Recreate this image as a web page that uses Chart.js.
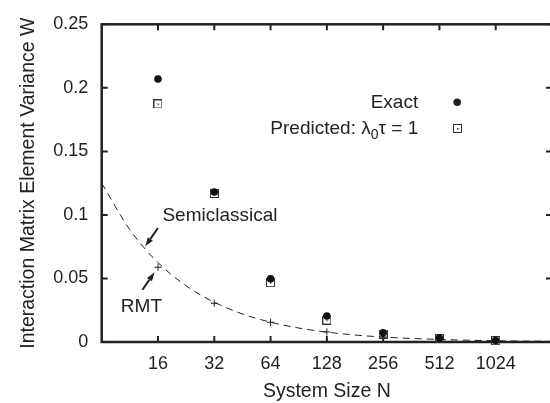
<!DOCTYPE html>
<html><head><meta charset="utf-8">
<script src="https://cdn.jsdelivr.net/npm/chart.js@4.4.1/dist/chart.umd.min.js"></script>
<style>
html,body{margin:0;padding:0;overflow:hidden;background:#fff;width:550px;height:403px}
#wrap{position:absolute;left:0;top:0;width:558px;height:403px}
</style>
</head><body><div id="wrap"><canvas id="c" width="558" height="403"></canvas></div>
<script>
// ---- data ----
const sizes = [16, 32, 64, 128, 256, 512, 1024];
const exactW = [0.207, 0.118, 0.0498, 0.0205, 0.0072, 0.0031, 0.0012];
const predictedW = [0.1873, 0.117, 0.0467, 0.0173, 0.0062, 0.0028, 0.0011];
const rmtW = [0.0588, 0.0305, 0.0155, 0.0079, 0.0039, 0.002, 0.001];
const semiN = [8, 11.31, 16, 22.63, 32, 45.25, 64, 90.5, 128, 181, 256, 362, 512, 724, 1024, 1448, 2048];
const semiW = [0.125, 0.0884, 0.0625, 0.0442, 0.0313, 0.0221, 0.0156, 0.011, 0.0078, 0.0055, 0.0039, 0.0028, 0.002, 0.0014, 0.001, 0.0007, 0.0005];
const xTickValues = [16, 32, 64, 128, 256, 512, 1024];
const yTickValues = [0, 0.05, 0.1, 0.15, 0.2, 0.25];
const xRange = [8, 2048];
const yRange = [0, 0.25];
const xTitle = 'System Size N';
const yTitle = 'Interaction Matrix Element Variance W';
const legendExact = 'Exact';
const semiLabel = 'Semiclassical';
const rmtLabel = 'RMT';
// annotation anchors in data coordinates
const semiTextAt = {x: 16.9, y: 0.0993};
const semiArrow = {from: {x: 16, y: 0.0897}, to: {x: 13.67, y: 0.0753}};
const rmtTextAt = {x: 10.13, y: 0.0274};
const rmtArrow = {from: {x: 13.21, y: 0.0411}, to: {x: 15.35, y: 0.0549}};

const FONT = "'Liberation Sans', Arial, Helvetica, sans-serif";
const INK = '#222';
const TEXT_SIZE = 19;

// square marker with a centre dot
function makeSquare() {
  const c = document.createElement('canvas');
  c.width = 9; c.height = 9;
  const g = c.getContext('2d');
  g.strokeStyle = '#333'; g.lineWidth = 1;
  g.strokeRect(0.5, 0.5, 8, 8);
  g.fillStyle = '#333';
  g.fillRect(4, 4, 1.5, 1.5);
  return c;
}
const squareImg = makeSquare();

const framePlugin = {
  id: 'frame',
  beforeDatasetsDraw(chart) {
    const {ctx, chartArea: a, scales: {x, y}} = chart;
    ctx.save();
    ctx.strokeStyle = INK;
    ctx.lineWidth = 2.5;
    ctx.strokeRect(a.left, a.top, a.right - a.left, a.bottom - a.top);
    ctx.lineWidth = 2;
    const L = 6;
    ctx.beginPath();
    xTickValues.forEach(v => {
      const px = x.getPixelForValue(v);
      ctx.moveTo(px, a.bottom); ctx.lineTo(px, a.bottom - L);
      ctx.moveTo(px, a.top); ctx.lineTo(px, a.top + L);
    });
    yTickValues.forEach(v => {
      const py = y.getPixelForValue(v);
      ctx.moveTo(a.left, py); ctx.lineTo(a.left + L, py);
      ctx.moveTo(a.right, py); ctx.lineTo(a.right - L, py);
    });
    ctx.stroke();
    ctx.restore();
  },
  afterDatasetsDraw(chart) {
    const {ctx, scales: {x, y}} = chart;
    const P = p => ({x: x.getPixelForValue(p.x), y: y.getPixelForValue(p.y)});
    ctx.save();
    ctx.fillStyle = INK;
    ctx.font = TEXT_SIZE + 'px ' + FONT;
    ctx.textBaseline = 'middle';
    ctx.textAlign = 'left';
    let p = P(semiTextAt); ctx.fillText(semiLabel, p.x, p.y);
    p = P(rmtTextAt); ctx.fillText(rmtLabel, p.x, p.y);
    function arrow(ar) {
      const a = P(ar.from), b = P(ar.to);
      const ang = Math.atan2(b.y - a.y, b.x - a.x);
      const hl = 9, hw = 3;
      const bx = b.x - hl * Math.cos(ang), by = b.y - hl * Math.sin(ang);
      ctx.strokeStyle = INK; ctx.lineWidth = 2;
      ctx.beginPath(); ctx.moveTo(a.x, a.y); ctx.lineTo(bx, by); ctx.stroke();
      ctx.beginPath();
      ctx.moveTo(b.x, b.y);
      ctx.lineTo(bx + hw * Math.sin(ang), by - hw * Math.cos(ang));
      ctx.lineTo(bx - hw * Math.sin(ang), by + hw * Math.cos(ang));
      ctx.closePath(); ctx.fill();
    }
    arrow(semiArrow); arrow(rmtArrow);

    // legend (top right inside plot)
    const a = chart.chartArea;
    const textRight = a.left + 316.5;
    const markX = a.left + 355.5;
    const row1 = a.top + 78, row2 = a.top + 104;
    ctx.textAlign = 'right';
    ctx.fillText(legendExact, textRight, row1);
    ctx.beginPath(); ctx.arc(markX, row1, 3.8, 0, Math.PI * 2); ctx.fill();
    // Predicted: λ0τ = 1 with subscript
    const parts = [['Predicted: \u03bb', TEXT_SIZE, 0], ['0', 14, 7], ['\u03c4 = 1', TEXT_SIZE, 0]];
    let total = 0;
    parts.forEach(pt => { ctx.font = pt[1] + 'px ' + FONT; total += ctx.measureText(pt[0]).width; });
    let cx = textRight - total;
    ctx.textAlign = 'left';
    parts.forEach(pt => {
      ctx.font = pt[1] + 'px ' + FONT;
      ctx.fillText(pt[0], cx, row2 + pt[2]);
      cx += ctx.measureText(pt[0]).width;
    });
    ctx.drawImage(squareImg, Math.round(markX - 4.5), Math.round(row2 - 4.5));
    ctx.restore();
  }
};

Chart.defaults.font.family = FONT;
Chart.defaults.font.size = 18;
Chart.defaults.color = INK;

new Chart(document.getElementById('c'), {
  type: 'scatter',
  data: {
    datasets: [
      {
        label: 'Exact', order: 0, clip: false,
        data: sizes.map((n, i) => ({x: n, y: exactW[i]})),
        pointStyle: 'circle', pointRadius: 3.8, pointBorderWidth: 0,
        backgroundColor: '#111', borderColor: '#111', showLine: false
      },
      {
        label: 'Predicted', order: 1, clip: false,
        data: sizes.map((n, i) => ({x: n, y: predictedW[i]})),
        pointStyle: squareImg, pointRadius: 5, showLine: false
      },
      {
        label: 'RMT', order: 2, clip: false,
        data: sizes.map((n, i) => ({x: n, y: rmtW[i]})),
        pointStyle: 'cross', pointRadius: 3.6, pointBorderWidth: 1,
        borderColor: INK, backgroundColor: INK, showLine: false
      },
      {
        label: 'Semiclassical', order: 3,
        data: semiN.map((n, i) => ({x: n, y: semiW[i]})),
        showLine: true, pointRadius: 0, borderColor: INK, borderWidth: 1,
        borderDash: [7, 5], cubicInterpolationMode: 'monotone', fill: false
      }
    ]
  },
  options: {
    responsive: false,
    animation: false,
    devicePixelRatio: 1,
    layout: {padding: {top: 14, right: 3, left: 0, bottom: 0}},
    plugins: {legend: {display: false}, tooltip: {enabled: false}},
    scales: {
      x: {
        type: 'logarithmic', min: xRange[0], max: xRange[1],
        grid: {display: false, drawTicks: false}, border: {display: false},
        afterBuildTicks: s => { s.ticks = xTickValues.map(v => ({value: v})); },
        afterFit: s => { s.height = 61; },
        ticks: {autoSkip: false, maxRotation: 0, padding: 11, callback: v => String(v)},
        title: {display: true, text: xTitle, font: {size: 19.5}, padding: {top: 0, bottom: 0}}
      },
      y: {
        type: 'linear', min: yRange[0], max: yRange[1],
        grid: {display: false, drawTicks: false}, border: {display: false},
        afterBuildTicks: s => { s.ticks = yTickValues.map(v => ({value: v})); },
        afterFit: s => { s.width = 101.7; },
        ticks: {padding: 13.5, callback: v => String(v)},
        title: {display: true, text: yTitle, font: {size: 19.5}, padding: {top: 17, bottom: 0}}
      }
    }
  },
  plugins: [framePlugin]
});
</script>
</body></html>
